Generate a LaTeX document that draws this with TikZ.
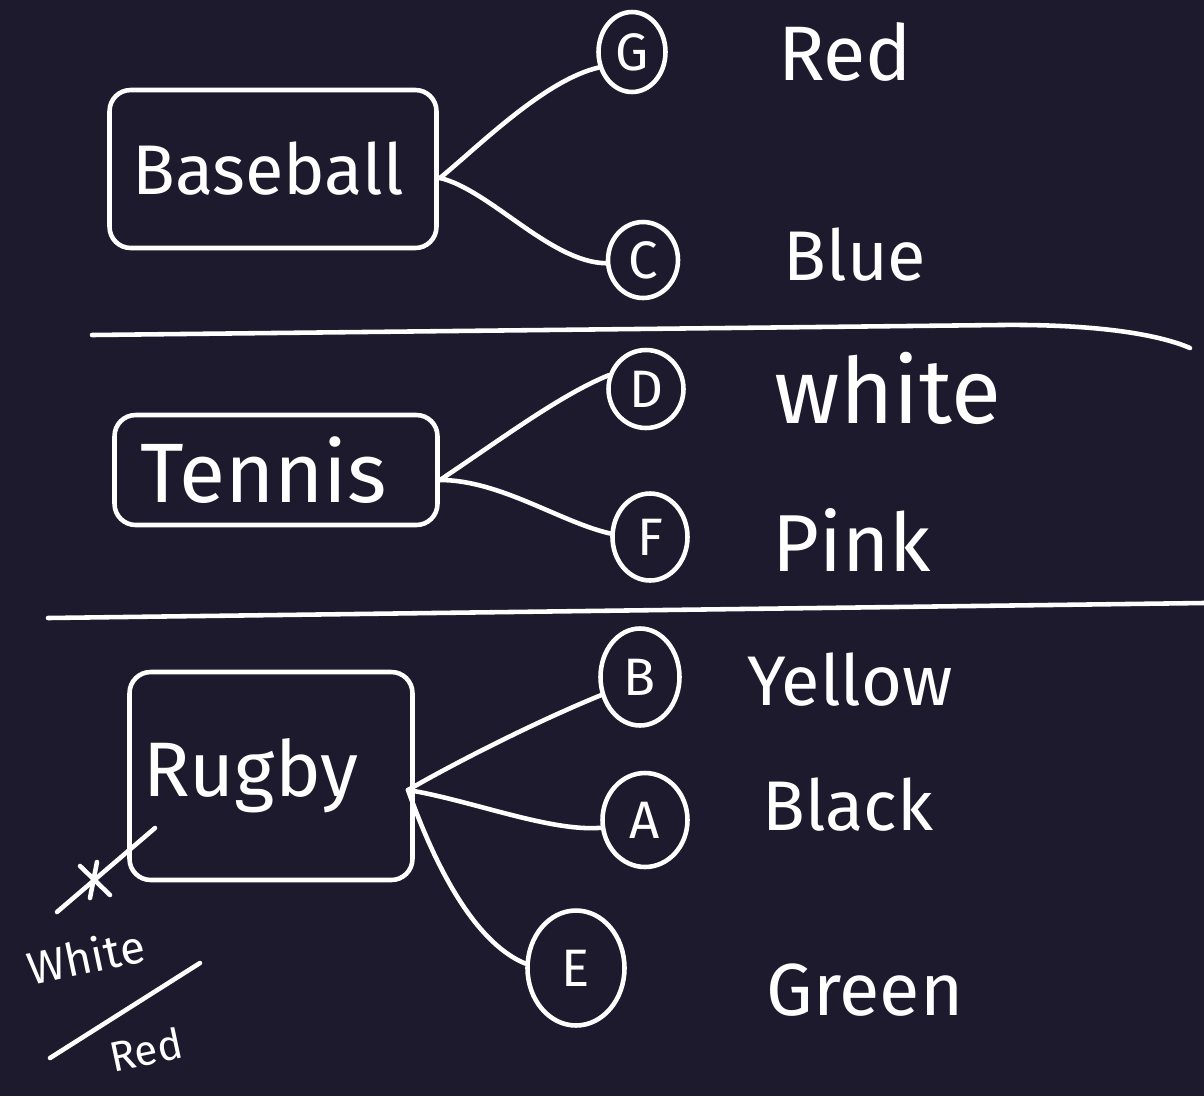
\documentclass[tikz,border=0pt]{standalone}
\usepackage{fontspec}
\setmainfont{Fira Sans}
\usetikzlibrary{shapes.geometric}
\definecolor{bg}{RGB}{30,26,46}
\begin{document}
\begin{tikzpicture}[x=0.02cm,y=-0.02cm,
  ink/.style={draw=white,line width=2.6pt,line cap=round,line join=round},
  sportbox/.style={ink,rounded corners=12pt,inner sep=0pt,text=white},
  letter/.style={ink,ellipse,inner sep=0pt,text=white,font=\fontsize{30}{30}\selectfont},
  colorlabel/.style={text=white,inner sep=0pt},
]
\fill[bg] (0,0) rectangle (1204,1096);
\useasboundingbox (0,0) rectangle (1204,1096);

% sport boxes
\node[sportbox,minimum width=6.54cm,minimum height=3.16cm,font=\fontsize{40}{40}\selectfont] (baseball) at (273,169) {Baseball\hspace*{0.2cm}};
\node[sportbox,minimum width=6.46cm,minimum height=2.2cm,font=\fontsize{48}{48}\selectfont] (tennis) at (276,470) {Tennis\hspace*{0.5cm}};
\node[sportbox,minimum width=5.66cm,minimum height=4.16cm,font=\fontsize{44}{44}\selectfont] (rugby) at (271,776) {Rugby\hspace*{0.8cm}};

% letter circles
\node[letter,minimum width=1.34cm,minimum height=1.6cm] (G) at (632,52) {G};
\node[letter,minimum width=1.4cm,minimum height=1.52cm] (C) at (643,260) {C};
\node[letter,minimum width=1.5cm,minimum height=1.56cm] (D) at (646,389) {D};
\node[letter,minimum width=1.5cm,minimum height=1.74cm] (F) at (650,537) {F};
\node[letter,minimum width=1.58cm,minimum height=1.94cm] (B) at (640,677) {B};
\node[letter,minimum width=1.7cm,minimum height=1.88cm] (A) at (645,820) {A};
\node[letter,minimum width=1.94cm,minimum height=2.3cm] (E) at (576,968) {E};

% colour labels
\node[colorlabel,font=\fontsize{44}{44}\selectfont] (red) at (845,52) {Red};
\node[colorlabel,font=\fontsize{40}{40}\selectfont] (blue) at (855,255) {Blue};
\node[colorlabel,font=\fontsize{52}{52}\selectfont] (white) at (888,388) {white};
\node[colorlabel,font=\fontsize{46}{46}\selectfont] (pink) at (852,540) {Pink};
\node[colorlabel,font=\fontsize{40}{40}\selectfont] (yellow) at (850,680) {Yellow};
\node[colorlabel,font=\fontsize{40}{40}\selectfont] (black) at (848,805) {Black};
\node[colorlabel,font=\fontsize{42}{42}\selectfont] (green) at (865,990) {Green};

% connectors
\coordinate (bj) at (440,178);
\coordinate (tj) at (440,480);
\coordinate (rj) at (408,790);
\draw[ink] (bj) .. controls (480,145) and (545,80) .. (G.205);
\draw[ink] (bj) .. controls (490,190) and (550,262) .. (C.185);
\draw[ink] (tj) .. controls (500,440) and (560,395) .. (D.160);
\draw[ink] (tj) .. controls (500,480) and (560,522) .. (F.175);
\draw[ink] (rj) .. controls (460,760) and (540,720) .. (B.205);
\draw[ink] (rj) .. controls (470,800) and (550,832) .. (A.190);
\draw[ink] (rj) .. controls (440,880) and (480,945) .. (E.175);

% separators
\draw[ink] (92,335) -- (1000,325) .. controls (1100,324) and (1160,335) .. (1190,348);
\draw[ink] (48,618) -- (1204,603);

% cross mark and note
\coordinate (xa) at (155,828);
\coordinate (xb) at (57,912);
\draw[ink] (xa) -- (xb);
\draw[ink] (80,866) -- (110,895);
\draw[ink] (97,862) -- (90,898);
\node[colorlabel,font=\fontsize{26}{26}\selectfont,rotate=12] (nwhite) at (86,956) {White};
\node[colorlabel,font=\fontsize{24}{24}\selectfont,rotate=12] (nred) at (146,1050) {Red};
\coordinate (sa) at (50,1058);
\coordinate (sb) at (200,963);
\draw[ink] (sa) -- (sb);
\end{tikzpicture}
\end{document}
